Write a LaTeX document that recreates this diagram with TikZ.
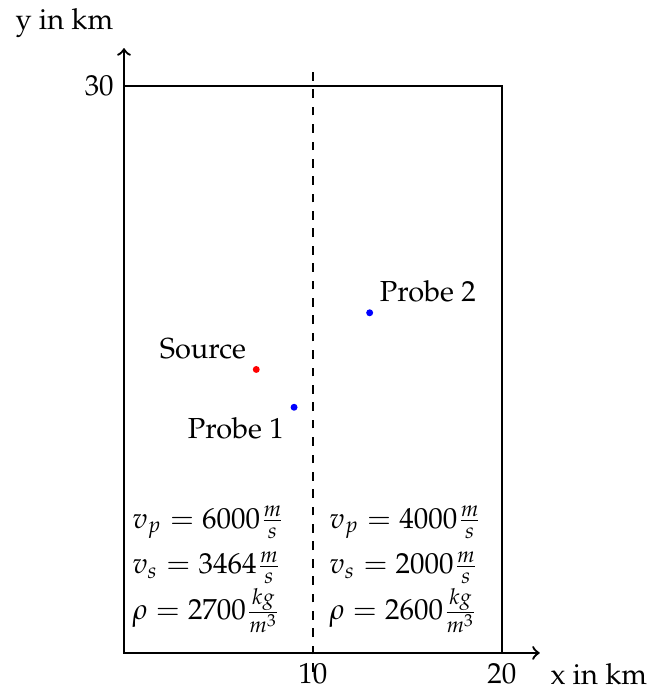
\documentclass[tikz,border=0pt]{standalone}
\usepackage[T1]{fontenc}
\usepackage{mathpazo}
\usetikzlibrary{positioning}
\tikzset{
  axisarr/.style={->, thick},
  domainbox/.style={draw, thin},
  iface/.style={dashed, thin},
  srcdot/.style={fill=red},
  prbdot/.style={fill=blue},
  matrow/.style={anchor=base west, inner sep=0pt},
}
\begin{document}
\begin{tikzpicture}[x=0.2292cm, y=0.2292cm]
    \useasboundingbox (-6.56,-1.96) rectangle (27.83,34.55);
    \draw[domainbox] (0,0) rectangle (20,30);
    \draw[iface] (10,-1) -- (10,31);
    \draw[axisarr] (0,0) -- (22,0) node[below right] (xlab) {x in km};
    \draw[axisarr] (0,0) -- (0,32) node[above left] (ylab) {y in km};
    \node[left] (ytick) at (0,30) {30};
    \node[below] (xtickA) at (10,0) {10};
    \node[below] (xtickB) at (20,0) {20};
    % source and probes
    \coordinate (src) at (7,15);
    \coordinate (prbA) at (9,13);
    \coordinate (prbB) at (13,18);
    \fill[srcdot] (src) circle (1.2pt);
    \fill[prbdot] (prbA) circle (1.2pt);
    \fill[prbdot] (prbB) circle (1.2pt);
    \node[above left] (srclab) at (src) {Source};
    \node[below left] (prbAlab) at (prbA) {Probe 1};
    \node[above right] (prbBlab) at (prbB) {Probe 2};
    % material parameters
    \node[matrow] (vpL) at (0.42,6.61) {$v_p = 6000\frac{m}{s}$};
    \node[matrow] (vsL) at (0.42,4.18) {$v_s = 3464\frac{m}{s}$};
    \node[matrow] (rhoL) at (0.42,1.75) {$\rho = 2700\frac{kg}{m^3}$};
    \node[matrow] (vpR) at (10.85,6.61) {$v_p = 4000\frac{m}{s}$};
    \node[matrow] (vsR) at (10.85,4.18) {$v_s = 2000\frac{m}{s}$};
    \node[matrow] (rhoR) at (10.85,1.75) {$\rho = 2600\frac{kg}{m^3}$};
  \end{tikzpicture}
\end{document}
